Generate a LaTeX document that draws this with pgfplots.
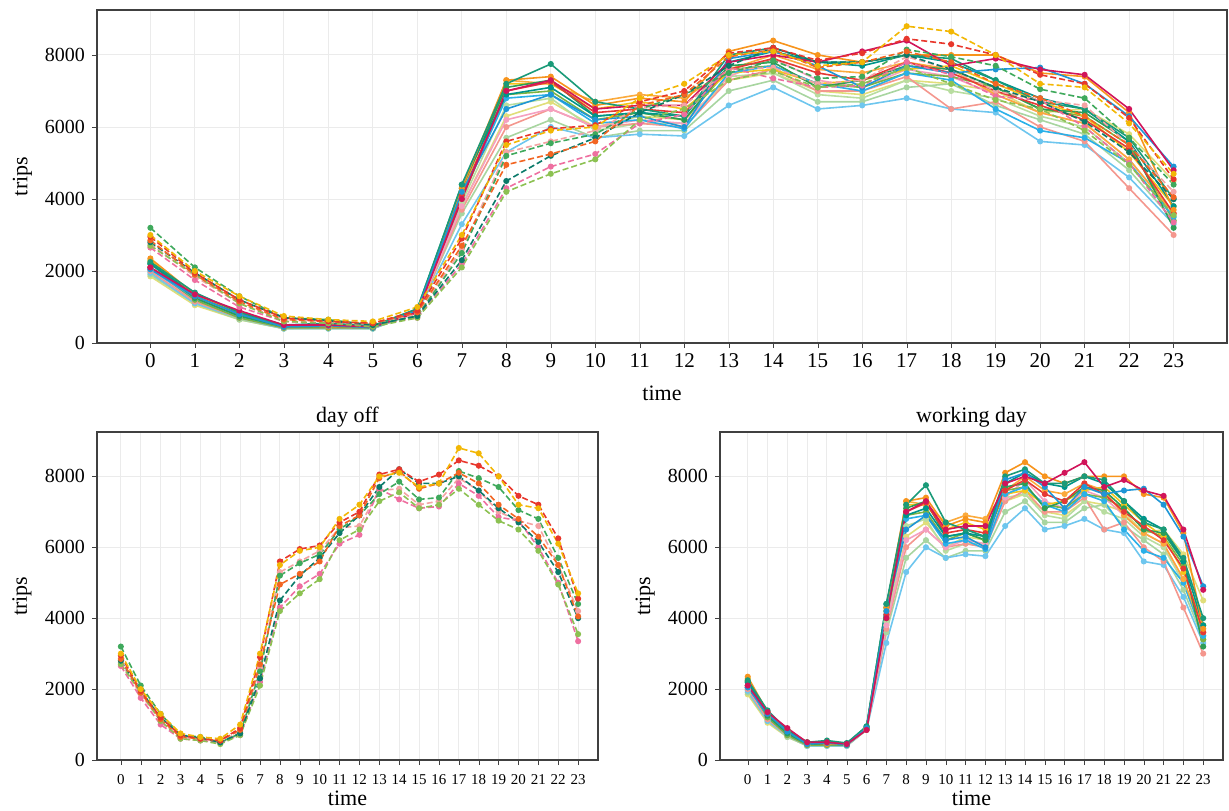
\documentclass[border=0pt]{standalone}
\usepackage{fontspec}
\setmainfont{Liberation Serif}
\usepackage{pgfplots}
\pgfplotsset{compat=1.18}
\usepackage{pgfplotstable}

% day off (dashed)
\pgfplotstableread{
h d1 d2 d3 d4 d5 d6 d7 d8
0 3000 2950 2850 2800 3200 2700 2650 2750
1 2000 1950 1900 1950 2100 1900 1750 1850
2 1300 1200 1150 1200 1300 1100 1000 1100
3 750 700 650 700 700 600 600 650
4 650 600 600 620 650 550 550 600
5 600 550 550 500 500 450 500 500
6 1000 900 850 750 750 700 700 800
7 3000 2900 2700 2300 2500 2100 2200 2600
8 5500 5600 4950 4500 5200 4200 4300 5300
9 5900 5950 5250 5200 5550 4700 4900 5600
10 6000 6050 5600 5700 5800 5100 5250 5900
11 6800 6700 6600 6400 6500 6200 6100 6550
12 7200 7000 6900 6900 6900 6500 6350 6600
13 8000 8050 7950 7700 7500 7300 7650 7600
14 8100 8200 8150 8200 7850 7550 7350 7650
15 7700 7850 7650 7800 7350 7100 7100 7200
16 7800 8050 7800 7800 7400 7200 7150 7300
17 8800 8450 8100 8000 8150 7650 7800 7950
18 8650 8300 7800 7600 7950 7200 7450 7600
19 8000 8000 7200 7100 7700 6750 6850 7000
20 7200 7450 6800 6700 7050 6500 6750 6750
21 7100 7200 6300 6150 6800 5900 6000 6600
22 6100 6250 5500 5300 5700 4950 5000 5500
23 4700 4550 4050 4000 4400 3550 3350 4200
}\dayoff

% working day (solid)
\pgfplotstableread{
h w1 w2 w3 w4 w5 w6 w7 w8 w9 w10 w11 w12 w13 w14 w15 w16 w17
0 2100 2050 2250 2350 2100 2200 2300 2100 1950 1900 2000 1850 2000 2050 2250 2200 2050
1 1350 1300 1400 1350 1300 1250 1300 1200 1100 1100 1150 1050 1200 1250 1300 1350 1200
2 900 800 850 850 850 750 800 700 700 650 700 650 700 750 800 800 750
3 500 450 500 500 480 450 450 420 400 400 420 400 400 450 450 500 430
4 500 480 550 450 500 450 450 420 400 400 430 400 420 450 450 500 430
5 450 430 480 450 450 430 450 420 400 400 420 400 400 430 450 450 420
6 850 900 950 900 850 900 900 900 850 850 850 850 880 900 900 950 870
7 4000 4200 4400 4300 4100 4300 4200 4000 3300 3600 3700 3800 3900 4100 4200 4400 3800
8 7000 6500 7200 7300 7000 7100 7200 6900 5300 5700 6000 6300 6600 6800 7300 6900 6200
9 7300 6900 7750 7400 7250 7300 7200 7000 6000 6200 6500 6700 6800 6900 7200 7100 6500
10 6500 6200 6700 6600 6400 6300 6500 6200 5700 5700 6000 6000 5900 6100 6700 6300 6000
11 6600 6300 6500 6800 6500 6400 6700 6400 5800 5900 6100 6300 6100 6200 6900 6400 6200
12 6600 6000 6300 6700 6400 6200 6500 6200 5750 5900 6000 6200 6100 5950 6800 6300 6100
13 7800 7900 8000 8100 7600 7700 7500 7600 6600 7000 7300 7300 7400 7500 7600 7800 7400
14 8000 8100 8200 8400 7900 7800 7600 7700 7100 7300 7600 7500 7500 7700 8000 8100 7900
15 7800 7700 7800 8000 7500 7100 7200 7200 6500 6700 7000 7000 6900 7200 7600 7800 7300
16 8100 7100 7800 7800 7300 7300 7300 7100 6600 6700 7000 6900 6800 7000 7500 7700 7100
17 8400 7700 8000 8000 7800 7700 7600 7500 6800 7100 7400 7300 7300 7500 7800 8000 7600
18 7700 7500 7900 8000 7500 7600 7700 7400 6500 7200 6500 7200 7000 7300 7600 7800 7400
19 7900 7600 7300 8000 7000 7100 7200 7100 6400 6600 6700 7000 6800 6500 6900 7300 6900
20 7600 7650 6700 7500 6600 6500 6700 6500 5600 6200 6000 6400 6300 5900 6400 6800 6400
21 7450 7200 6500 7400 6200 6400 6300 6300 5500 5800 5600 6500 6000 5700 6100 6500 6100
22 6500 6300 5700 6400 5400 5600 5300 5500 4600 4800 4300 5800 5000 5000 5100 5600 5100
23 4800 4900 4000 3700 3600 3200 3800 3400 3300 3400 3000 4500 3500 3500 3600 3800 3600
}\work

\definecolor{dA}{HTML}{F2B705}
\definecolor{dB}{HTML}{E8372C}
\definecolor{dC}{HTML}{F26522}
\definecolor{dD}{HTML}{0B7A6A}
\definecolor{dE}{HTML}{3FA95C}
\definecolor{dF}{HTML}{8CC152}
\definecolor{dG}{HTML}{EE6FA0}
\definecolor{dH}{HTML}{F4A3A3}
\definecolor{wA}{HTML}{D1145A}
\definecolor{wB}{HTML}{1E96D6}
\definecolor{wC}{HTML}{1A9A78}
\definecolor{wD}{HTML}{F7941D}
\definecolor{wE}{HTML}{E53935}
\definecolor{wF}{HTML}{2E9E55}
\definecolor{wG}{HTML}{F5C518}
\definecolor{wH}{HTML}{7CB342}
\definecolor{wI}{HTML}{6EC6EE}
\definecolor{wJ}{HTML}{A8D5A0}
\definecolor{wK}{HTML}{F4978E}
\definecolor{wL}{HTML}{E0DE7A}
\definecolor{wM}{HTML}{B8DDA0}
\definecolor{wN}{HTML}{2AB0E8}
\definecolor{wO}{HTML}{FBAA3C}
\definecolor{wP}{HTML}{00958A}
\definecolor{wQ}{HTML}{F5A0C0}

\pgfplotsset{
  base/.style={scale only axis, ymin=0, ymax=9250,
    xtick={0,...,23}, ytick={0,2000,4000,6000,8000},
    grid=major, grid style={black!8, line width=0.5pt},
    axis line style={black!75, line width=0.7pt},
    tick pos=left,
    tick align=outside, major tick length=2.5pt, tick style={black!75},
    /pgf/number format/assume math mode=true,
    scaled y ticks=false,
    yticklabel style={/pgf/number format/1000 sep={}},
    xticklabel style={text height=1.4ex, text depth=0.2ex},
    ylabel={trips}, xlabel={time},
    label style={font=\fontsize{11}{13}\selectfont},
    yticklabel style={font=\fontsize{10}{12}\selectfont}},
  dl/.style={line width=0.8pt, dash pattern=on 3pt off 1.5pt, mark=*, mark size=1.1pt, mark options={solid}},
  wl/.style={line width=0.8pt, mark=*, mark size=1.1pt},
}
\newcommand\dplots{%
  \addplot[dl, dH] table[x=h,y=d8]{\dayoff};
  \addplot[dl, dG] table[x=h,y=d7]{\dayoff};
  \addplot[dl, dF] table[x=h,y=d6]{\dayoff};
  \addplot[dl, dE] table[x=h,y=d5]{\dayoff};
  \addplot[dl, dD] table[x=h,y=d4]{\dayoff};
  \addplot[dl, dC] table[x=h,y=d3]{\dayoff};
  \addplot[dl, dB] table[x=h,y=d2]{\dayoff};
  \addplot[dl, dA] table[x=h,y=d1]{\dayoff};
}
\newcommand\wplots{%
  \addplot[wl, wL] table[x=h,y=w12]{\work};
  \addplot[wl, wM] table[x=h,y=w13]{\work};
  \addplot[wl, wJ] table[x=h,y=w10]{\work};
  \addplot[wl, wI] table[x=h,y=w9]{\work};
  \addplot[wl, wK] table[x=h,y=w11]{\work};
  \addplot[wl, wQ] table[x=h,y=w17]{\work};
  \addplot[wl, wH] table[x=h,y=w8]{\work};
  \addplot[wl, wG] table[x=h,y=w7]{\work};
  \addplot[wl, wN] table[x=h,y=w14]{\work};
  \addplot[wl, wO] table[x=h,y=w15]{\work};
  \addplot[wl, wF] table[x=h,y=w6]{\work};
  \addplot[wl, wE] table[x=h,y=w5]{\work};
  \addplot[wl, wP] table[x=h,y=w16]{\work};
  \addplot[wl, wD] table[x=h,y=w4]{\work};
  \addplot[wl, wC] table[x=h,y=w3]{\work};
  \addplot[wl, wB] table[x=h,y=w2]{\work};
  \addplot[wl, wA] table[x=h,y=w1]{\work};
}

\begin{document}
\begin{tikzpicture}
\path[use as bounding box] (0,0) rectangle (614.5pt,-405pt);

\begin{axis}[base, at={(48.5pt,-171.5pt)}, anchor=south west,
  width=565pt, height=166.5pt, xmin=-1.2, xmax=24.2,
  xticklabel style={font=\fontsize{10.5}{12}\selectfont},
  xlabel style={at={(axis description cs:0.5,-0.15)}, anchor=center},
  ylabel style={at={(axis description cs:-0.066,0.5)}, anchor=center}]
\wplots
\dplots
\end{axis}

\begin{axis}[base, name=bl, at={(48.5pt,-380pt)}, anchor=south west,
  width=250.5pt, height=164pt, xmin=-1.2, xmax=24,
  xticklabel style={font=\fontsize{7.5}{8}\selectfont},
  xlabel style={at={(axis description cs:0.5,-0.116)}, anchor=center},
  ylabel style={at={(axis description cs:-0.15,0.5)}, anchor=center}]
\dplots
\end{axis}
\node[font=\fontsize{11}{13}\selectfont, anchor=base] at ([yshift=5pt]bl.north) {day off};

\begin{axis}[base, name=br, at={(360pt,-380pt)}, anchor=south west,
  width=251.5pt, height=164pt, xmin=-1.4, xmax=24,
  xticklabel style={font=\fontsize{7.5}{8}\selectfont},
  xlabel style={at={(axis description cs:0.5,-0.116)}, anchor=center},
  ylabel style={at={(axis description cs:-0.149,0.5)}, anchor=center}]
\wplots
\end{axis}
\node[font=\fontsize{11}{13}\selectfont, anchor=base] at ([yshift=5pt]br.north) {working day};
\end{tikzpicture}
\end{document}
